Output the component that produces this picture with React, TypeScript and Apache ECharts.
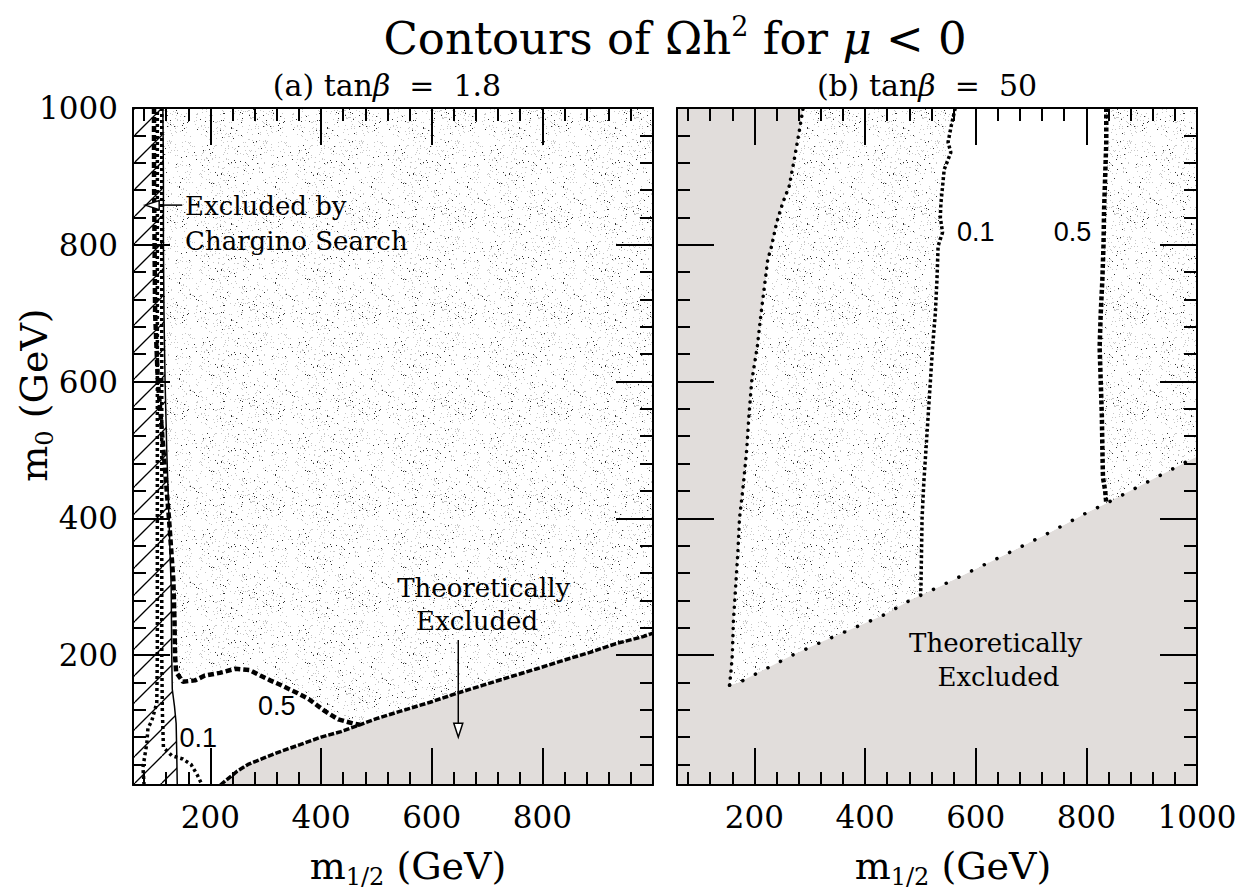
import React, { useEffect, useRef } from "react";
import * as echarts from "echarts";

type Pt = [number, number];

// Axis ranges (GeV)
const X_RANGE: Pt = [60, 1000];
const Y_RANGE: Pt = [10, 1000];

// ---- Panel (a): tanβ = 1.8 ----
// lower edge of the allowed region (below it: theoretically excluded)
const boundaryA: Pt[] = [
  [218, 10], [248, 30], [268, 40], [298, 50], [330, 60], [362, 69], [400, 80],
  [436, 88], [470, 98], [500, 107], [548, 119], [597, 131], [645, 144],
  [693, 156], [741, 168], [790, 180], [837, 192], [886, 204], [934, 217],
  [982, 227], [1000, 232],
];
// chargino search limit (hatched to the left)
const charginoA: Pt[] = [
  [114, 1000], [115, 900], [115, 800], [116, 700], [118, 600], [121, 500],
  [125, 400], [129, 300], [130, 200], [131, 150], [135, 125], [138, 100],
  [139, 60], [140, 10],
];
// Ωh² = 0.5 contour
const omega05A: Pt[] = [
  [98, 1000], [98, 900], [99, 800], [100, 700], [105, 600], [115, 500],
  [125, 400], [133, 309], [135, 250], [136, 200], [138, 175], [150, 161],
  [172, 163], [190, 170], [217, 174], [245, 180], [271, 178], [290, 170],
  [308, 163], [325, 157], [340, 151], [356, 145], [377, 136], [392, 127],
  [407, 118], [431, 106], [458, 100], [470, 98],
];
// Ωh² = 0.1 contour, two branches
const omega01LeftA: Pt[] = [
  [80, 10], [78, 36], [82, 56], [85, 71], [87, 93], [94, 104], [103, 130],
  [104, 200], [104, 300], [104, 400], [104, 500], [104, 600], [104, 700],
  [104, 800], [104, 900], [104, 1000],
];
const omega01RightA: Pt[] = [
  [112, 1000], [112, 900], [112, 800], [112, 700], [112, 600], [112, 500],
  [112, 400], [112, 300], [112, 200], [113, 120], [115, 65], [130, 53],
  [150, 48], [165, 40], [176, 25], [185, 10],
];

// ---- Panel (b): tanβ = 50 ----
const leftEdgeB: Pt[] = [
  [155, 156], [158, 180], [160, 200], [162, 250], [166, 300], [170, 350],
  [173, 400], [180, 450], [186, 500], [190, 550], [195, 600], [205, 650],
  [212, 700], [224, 778], [231, 798], [240, 832], [251, 861], [263, 886],
  [272, 925], [281, 966], [288, 1000],
];
const lowerEdgeB: Pt[] = [
  [155, 156], [170, 159], [221, 180], [269, 200], [321, 219], [381, 240],
  [435, 259], [481, 280], [534, 300], [661, 350], [733, 379], [805, 410],
  [829, 419], [977, 481], [1000, 490],
];
const omega01B: Pt[] = [
  [563, 1000], [556, 975], [550, 950], [555, 935], [543, 910], [540, 885],
  [537, 860], [536, 840], [540, 818], [532, 798], [530, 750], [527, 700],
  [522, 650], [518, 600], [514, 550], [510, 500], [506, 450], [503, 400],
  [502, 350], [501, 300], [500, 288],
];
const omega05B: Pt[] = [
  [836, 1000], [836, 950], [834, 900], [832, 850], [831, 800], [829, 750],
  [826, 700], [824, 650], [826, 600], [828, 550], [829, 500], [830, 460],
  [834, 440], [836, 422],
];

const SERIF = '"DejaVu Serif", serif';
const SANS = '"Liberation Sans", Arial, sans-serif';
const GRAY = "#e1dddb";

// light stipple texture
function makeStipple(): HTMLCanvasElement {
  const size = 96;
  const c = document.createElement("canvas");
  c.width = size;
  c.height = size;
  const ctx = c.getContext("2d")!;
  const img = ctx.createImageData(size, size);
  for (let y = 0; y < size; y++) {
    for (let x = 0; x < size; x++) {
      let h = Math.imul(x + 1, 374761393) ^ Math.imul(y + 7, 668265263);
      h = Math.imul(h ^ (h >>> 13), 1274126177);
      h ^= h >>> 16;
      const v = (h >>> 0) / 4294967296;
      let g = 255;
      if (v < 0.014) g = 50;
      else if (v < 0.06) g = 200;
      const i = (y * size + x) * 4;
      img.data[i] = g;
      img.data[i + 1] = g;
      img.data[i + 2] = g;
      img.data[i + 3] = 255;
    }
  }
  ctx.putImageData(img, 0, 0);
  return c;
}

// diagonal hatching texture
function makeHatch(): HTMLCanvasElement {
  const s = 27;
  const c = document.createElement("canvas");
  c.width = s;
  c.height = s;
  const ctx = c.getContext("2d")!;
  ctx.fillStyle = "#fff";
  ctx.fillRect(0, 0, s, s);
  ctx.strokeStyle = "#000";
  ctx.lineWidth = 1.3;
  for (const o of [-s, 0, s]) {
    ctx.beginPath();
    ctx.moveTo(o, s);
    ctx.lineTo(o + s, 0);
    ctx.stroke();
  }
  return c;
}

function rect(): Pt[] {
  return [
    [X_RANGE[0], Y_RANGE[0]], [X_RANGE[1], Y_RANGE[0]],
    [X_RANGE[1], Y_RANGE[1]], [X_RANGE[0], Y_RANGE[1]],
  ];
}

function polygonSeries(points: Pt[], axis: number, fill: any, z: number) {
  return {
    type: "custom",
    xAxisIndex: axis,
    yAxisIndex: axis,
    z,
    silent: true,
    clip: true,
    data: points,
    renderItem: (params: any, api: any) => {
      if (params.dataIndex !== 0) return null;
      return {
        type: "polygon",
        shape: { points: points.map((p) => api.coord(p)) },
        style: { fill, stroke: null },
      };
    },
  };
}

function lineSeries(points: Pt[], axis: number, style: any, z: number) {
  return {
    type: "line",
    xAxisIndex: axis,
    yAxisIndex: axis,
    z,
    silent: true,
    clip: true,
    symbol: "none",
    data: points,
    lineStyle: { color: "#000", ...style },
  };
}

function axis(kind: "x" | "y", gridIndex: number, position: string, labels: any) {
  const range = kind === "x" ? X_RANGE : Y_RANGE;
  return {
    type: "value",
    gridIndex,
    position,
    min: range[0],
    max: range[1],
    z: 10,
    splitNumber: 5,
    axisLine: { show: true, onZero: false, lineStyle: { color: "#000", width: 2 } },
    axisTick: { show: true, inside: true, length: 37, lineStyle: { color: "#000", width: 2 } },
    minorTick: { show: true, splitNumber: 5, length: 13, lineStyle: { color: "#000", width: 2 } },
    splitLine: { show: false },
    minorSplitLine: { show: false },
    axisLabel: labels
      ? {
          show: true,
          color: "#000",
          fontFamily: SERIF,
          fontSize: 31,
          margin: kind === "x" ? 16 : 15,
          formatter: (v: number) => String(v),
          ...labels,
        }
      : { show: false },
  };
}

export default function App() {
  const ref = useRef<HTMLDivElement>(null);

  useEffect(() => {
    if (!ref.current) return;
    const chart = echarts.init(ref.current, undefined, { renderer: "svg" });
    const stippleCanvas = makeStipple();
    const hatchCanvas = makeHatch();
    const stipple = { image: stippleCanvas, repeat: "repeat", imageWidth: 96, imageHeight: 96 };
    const hatch = { image: hatchCanvas, repeat: "repeat", imageWidth: 27, imageHeight: 27 };

    // composed regions
    const whiteA: Pt[] = [
      ...omega05A.filter((p) => p[1] <= 180 && p[0] >= 138),
      ...boundaryA.filter((p) => p[0] < 470).reverse(),
      ...charginoA.filter((p) => p[1] <= 150).reverse(),
    ];
    const grayA: Pt[] = [...boundaryA, [X_RANGE[1], Y_RANGE[0]]];
    const hatchA: Pt[] = [[X_RANGE[0], Y_RANGE[0]], [X_RANGE[0], Y_RANGE[1]], ...charginoA];
    const wedgeB: Pt[] = [
      ...leftEdgeB,
      [X_RANGE[1], Y_RANGE[1]],
      ...lowerEdgeB.slice(1).reverse(),
    ];
    const whiteB: Pt[] = [
      ...omega01B,
      ...lowerEdgeB.filter((p) => p[0] > 500 && p[0] < 836),
      ...omega05B.slice().reverse(),
    ];

    const option: any = {
      animation: false,
      backgroundColor: "#fff",
      grid: [
        { left: 133, top: 108, width: 520, height: 677, outerBoundsMode: "none" },
        { left: 677, top: 108, width: 520, height: 677, outerBoundsMode: "none" },
      ],
      xAxis: [
        axis("x", 0, "bottom", { showMinLabel: false, showMaxLabel: false }),
        axis("x", 0, "top", null),
        axis("x", 1, "bottom", { showMinLabel: false, showMaxLabel: true }),
        axis("x", 1, "top", null),
      ],
      yAxis: [
        axis("y", 0, "left", { showMinLabel: false, showMaxLabel: true }),
        axis("y", 0, "right", null),
        axis("y", 1, "left", null),
        axis("y", 1, "right", null),
      ],
      series: [
        // panel (a)
        polygonSeries(rect(), 0, stipple, 1),
        polygonSeries(whiteA, 0, "#fff", 2),
        polygonSeries(grayA, 0, GRAY, 2),
        polygonSeries(hatchA, 0, hatch, 3),
        lineSeries(charginoA, 0, { width: 1.5 }, 4),
        lineSeries(boundaryA, 0, { width: 3.5, type: [6, 2] }, 4),
        lineSeries(omega01LeftA, 0, { width: 3.5, type: [3, 3] }, 4),
        lineSeries(omega01RightA, 0, { width: 3.5, type: [3, 3] }, 4),
        lineSeries(omega05A, 0, { width: 4.5, type: [6, 3] }, 5),
        // panel (b)
        polygonSeries(rect(), 2, GRAY, 1),
        polygonSeries(wedgeB, 2, stipple, 2),
        polygonSeries(whiteB, 2, "#fff", 3),
        lineSeries(leftEdgeB, 2, { width: 3.5, type: [0.1, 7], cap: "round" }, 4),
        lineSeries(lowerEdgeB, 2, { width: 3.5, type: [0.1, 14], cap: "round" }, 4),
        lineSeries(omega01B, 2, { width: 3.5, type: [3, 2.5] }, 4),
        lineSeries(omega05B, 2, { width: 4.5, type: [4, 2.5] }, 5),
      ],
    };
    chart.setOption(option);

    const pa = (p: Pt) => chart.convertToPixel({ gridIndex: 0 }, p) as number[];
    const pb = (p: Pt) => chart.convertToPixel({ gridIndex: 1 }, p) as number[];

    const text = (pos: number[], t: string, size: number, family: string, align = "center", extra: any = {}) => ({
      type: "text",
      x: pos[0],
      y: pos[1],
      z: 30,
      silent: true,
      ...extra,
      style: {
        text: t,
        fill: "#000",
        fontSize: size,
        fontFamily: family,
        align,
        verticalAlign: "middle",
        textAlign: align,
        textVerticalAlign: "middle",
        ...(extra.style || {}),
      },
    });

    // arrow with an open head pointing from `from` to `tip`
    const arrow = (from: number[], tip: number[]) => {
      const dx = tip[0] - from[0];
      const dy = tip[1] - from[1];
      const len = Math.hypot(dx, dy);
      const ux = dx / len;
      const uy = dy / len;
      const hl = 14;
      const hw = 4.5;
      const bx = tip[0] - ux * hl;
      const by = tip[1] - uy * hl;
      return [
        {
          type: "line",
          z: 30,
          silent: true,
          shape: { x1: from[0], y1: from[1], x2: bx, y2: by },
          style: { stroke: "#000", lineWidth: 1.5 },
        },
        {
          type: "polygon",
          z: 30,
          silent: true,
          shape: {
            points: [
              [tip[0], tip[1]],
              [bx - uy * hw, by + ux * hw],
              [bx + uy * hw, by - ux * hw],
            ],
          },
          style: { fill: "#fff", stroke: "#000", lineWidth: 1.5 },
        },
      ];
    };

    const subRich = (size: number) => ({
      sub: { fontSize: size, fontFamily: SERIF, padding: [size * 0.9, 0, 0, 0] },
    });

    chart.setOption({
      graphic: [
        // headings
        text([675, 38], "Contours of Ωh{sup|2} for {it|μ} < 0", 45, SERIF, "center", {
          style: {
            rich: {
              sup: { fontSize: 27, fontFamily: SERIF, padding: [0, 0, 24, 0] },
              it: { fontSize: 45, fontFamily: SERIF, fontStyle: "italic" },
            },
          },
        }),
        text([387, 85], "(a) tan{it|β}  =  1.8", 30, SERIF, "center", {
          style: { rich: { it: { fontSize: 30, fontFamily: SERIF, fontStyle: "italic" } } },
        }),
        text([927, 85], "(b) tan{it|β}  =  50", 30, SERIF, "center", {
          style: { rich: { it: { fontSize: 30, fontFamily: SERIF, fontStyle: "italic" } } },
        }),
        // axis titles
        text([408, 866], "m{sub|1/2} (GeV)", 38, SERIF, "center", { style: { rich: subRich(24) } }),
        text([953, 866], "m{sub|1/2} (GeV)", 38, SERIF, "center", { style: { rich: subRich(24) } }),
        text([34, 395], "m{sub|0} (GeV)", 38, SERIF, "center", {
          rotation: Math.PI / 2,
          style: { rich: subRich(24) },
        }),
        // panel (a) annotations
        text(pa([154, 857]), "Excluded by", 26, SERIF, "left"),
        text(pa([154, 806]), "Chargino Search", 26, SERIF, "left"),
        ...arrow(pa([149, 858]), pa([82, 858])),
        text(pa([694, 298]), "Theoretically", 26, SERIF),
        text(pa([682, 250]), "Excluded", 26, SERIF),
        ...arrow(pa([648, 222]), pa([648, 80])),
        text(pa([320, 126]), "0.5", 27, SANS),
        text(pa([178, 78]), "0.1", 27, SANS),
        // panel (b) annotations
        text(pb([600, 818]), "0.1", 27, SANS),
        text(pb([775, 818]), "0.5", 27, SANS),
        text(pb([636, 217]), "Theoretically", 26, SERIF),
        text(pb([641, 168]), "Excluded", 26, SERIF),
      ],
    });

    return () => chart.dispose();
  }, []);

  return (
    <div
      ref={ref}
      style={{ position: "absolute", left: 0, top: 0, width: 1250, height: 896, background: "#fff" }}
    />
  );
}
